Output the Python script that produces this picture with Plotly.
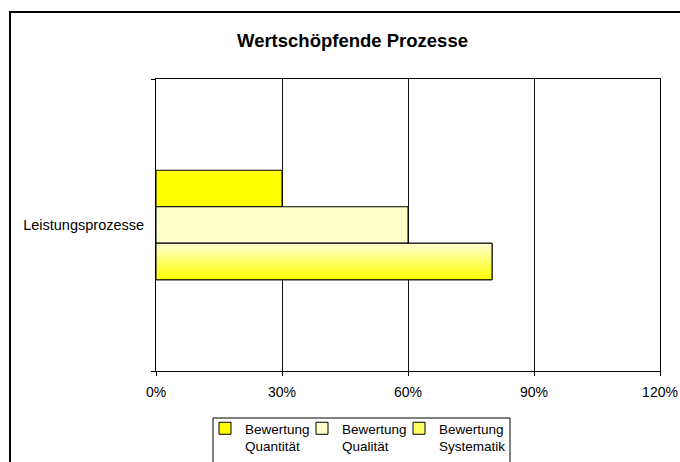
import plotly.graph_objects as go

# ---- data ----
category = ["Leistungsprozesse"]
series_names = ["Bewertung<br>Quantität", "Bewertung<br>Qualität", "Bewertung<br>Systematik"]
series_values = [0.30, 0.60, 0.80]
x_ticks = [0, 0.3, 0.6, 0.9, 1.2]
x_tick_labels = ["0%", "30%", "60%", "90%", "120%"]
title_text = "Wertschöpfende Prozesse"

# ---- style ----
W, H = 680, 462
ML, MR, MT, MB = 156, 20, 79, 91
PW, PH = W - ML - MR, H - MT - MB
bar_colors = ["#FFFF00", "#FFFFCC", "#FFFF66"]
bar_w = 0.125
offsets = [-0.1875, -0.0625, 0.0625]
legend_ids = ["legend", "legend2", "legend3"]
legend_left_px = [205, 302, 399]
FONT = "Liberation Sans, Arial, sans-serif"

def px_x(p):
    return (p - ML) / PW

def px_y(p):
    return (H - MB - p) / PH

fig = go.Figure()
for name, val, col, off, lid in zip(series_names, series_values, bar_colors, offsets, legend_ids):
    fig.add_trace(go.Bar(
        y=[0], x=[val], orientation="h", name=name,
        width=bar_w, offset=off, legend=lid,
        marker=dict(color=col, line=dict(color="#000000", width=1)),
        hoverinfo="skip",
    ))

# gradient overlay for the third series (built from its value and bar geometry)
v = series_values[2]
y0 = offsets[2]
y1 = offsets[2] + bar_w
fig.add_trace(go.Scatter(
    x=[0, v, v, 0, 0], y=[y0, y0, y1, y1, y0],
    mode="lines", fill="toself",
    fillgradient=dict(type="vertical",
                      colorscale=[[0, "#FFFF00"], [1, "#FFFFD0"]]),
    line=dict(color="#000000", width=1),
    showlegend=False, hoverinfo="skip",
))

legend_style = dict(
    orientation="h", xanchor="left", yanchor="top", y=px_y(413),
    borderwidth=0, bgcolor="rgba(0,0,0,0)",
    font=dict(family=FONT, size=13.5, color="#000000"),
    valign="top", itemwidth=30,
)

fig.update_layout(
    width=W, height=H,
    margin=dict(l=ML, r=MR, t=MT, b=MB, autoexpand=False),
    paper_bgcolor="white", plot_bgcolor="white",
    barmode="overlay",
    font=dict(family=FONT, size=13, color="#000000"),
    showlegend=True,
    legend=dict(x=px_x(legend_left_px[0]), **legend_style),
    legend2=dict(x=px_x(legend_left_px[1]), **legend_style),
    legend3=dict(x=px_x(legend_left_px[2]), **legend_style),
    annotations=[dict(
        text="<b>" + title_text + "</b>", xref="paper", yref="paper",
        x=px_x(352), y=px_y(41), xanchor="center", yanchor="middle",
        showarrow=False, font=dict(family=FONT, size=18.5, color="#000000"),
    )],
    shapes=[
        dict(type="rect", xref="paper", yref="paper",
             x0=px_x(10), x1=px_x(720), y0=px_y(500), y1=px_y(12),
             line=dict(color="#000000", width=2), layer="below"),
        dict(type="rect", xref="paper", yref="paper",
             x0=px_x(213), x1=px_x(510), y0=px_y(475), y1=px_y(418),
             line=dict(color="#000000", width=1), fillcolor="rgba(0,0,0,0)",
             layer="below"),
    ],
)

fig.update_xaxes(
    range=[0, 1.2], tickvals=x_ticks, ticktext=x_tick_labels,
    showgrid=True, gridcolor="#111111", gridwidth=1,
    showline=True, linecolor="#000000", linewidth=1, mirror=True,
    ticks="outside", ticklen=4, tickcolor="#000000",
    zeroline=False, fixedrange=True, automargin=False,
    ticklabelstandoff=4,
    tickfont=dict(size=14),
)
fig.update_yaxes(
    range=[0.5, -0.5], tickvals=[0], ticktext=category,
    ticks="", showgrid=False, zeroline=False,
    showline=True, linecolor="#000000", linewidth=1, mirror=True,
    minor=dict(tickvals=[-0.5, 0.5], ticks="outside", ticklen=4,
               tickcolor="#000000", showgrid=False),
    ticklabelstandoff=8, fixedrange=True, automargin=False,
    tickfont=dict(size=14.5),
)

fig.write_html(
    "out.html",
    config={"displayModeBar": False},
    post_script="document.body.style.margin='0';document.body.style.overflow='hidden';",
)
